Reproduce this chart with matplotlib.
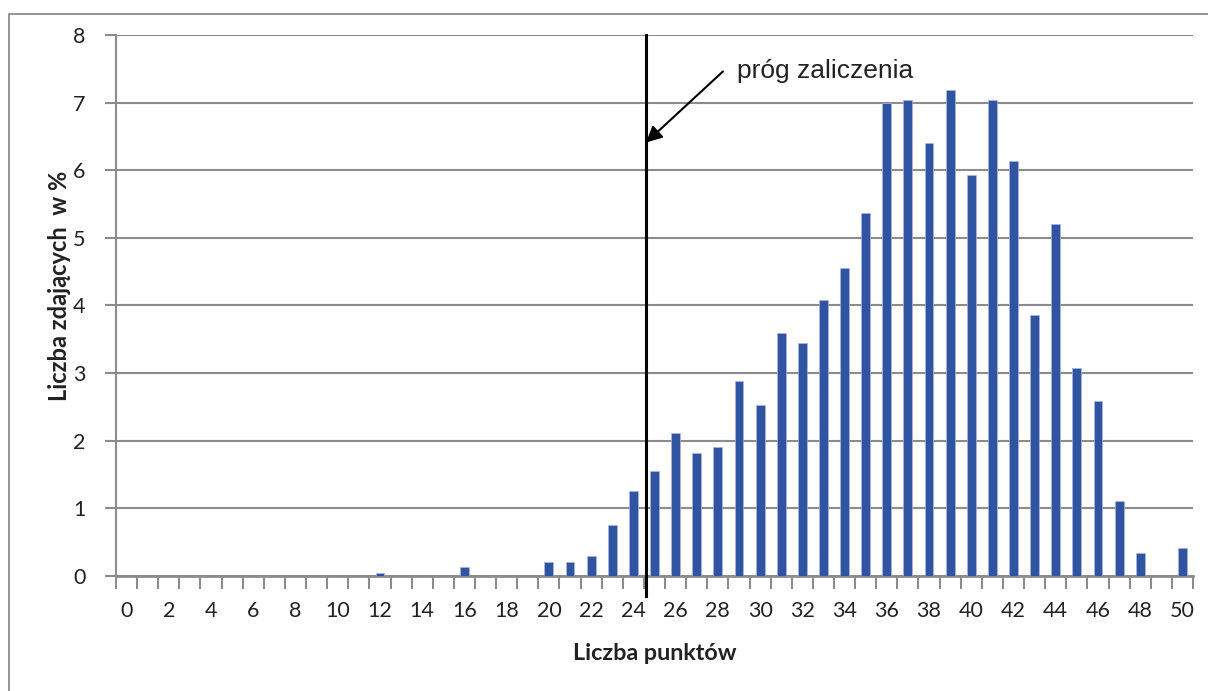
import matplotlib.pyplot as plt
import numpy as np
from matplotlib.patches import Rectangle

# dane: liczba punktow i procent zdajacych
punkty = np.arange(0, 51)
procent = [0, 0, 0, 0, 0, 0, 0, 0, 0, 0,
           0, 0, 0.05, 0, 0, 0, 0.14, 0, 0, 0,
           0.2, 0.2, 0.29, 0.76, 1.26, 1.55, 2.11, 1.82, 1.91, 2.88,
           2.53, 3.59, 3.44, 4.08, 4.56, 5.37, 6.99, 7.04, 6.40, 7.19,
           5.93, 7.04, 6.13, 3.86, 5.21, 3.08, 2.59, 1.11, 0.34, 0,
           0.41]
prog = 24.6
etykiety_x = [str(i) for i in range(0, 51, 2)]

plt.rcParams['font.family'] = ['Lato', 'DejaVu Sans']
fig = plt.figure(figsize=(12.08, 6.91), dpi=100)
ax = fig.add_axes([0.096, 0.1664, 0.8916, 0.783])

# ramka wokol wykresu
fig.patches.append(Rectangle((9/1208, -0.05), 1.2, 1 - 14/691 + 0.05,
                             transform=fig.transFigure, fill=False,
                             edgecolor='#8c8c8c', linewidth=1.3))

ax.bar(punkty, procent, width=0.42, color='#3154a2', edgecolor='#a9b7dc',
       linewidth=0.5, zorder=3)

ax.set_xlim(-0.5, 50.5)
ax.set_ylim(0, 8)
ax.set_yticks(range(0, 9))
ax.set_xticks(range(0, 51, 2))
ax.set_xticklabels(etykiety_x)
ax.set_xticks(np.arange(-0.5, 51, 1), minor=True)
ax.tick_params(axis='x', which='major', length=0, pad=18, labelsize=15.5, colors='#222222')
ax.tick_params(axis='x', which='minor', length=9, width=1.5, color='#8c8c8c', direction='out')
ax.tick_params(axis='y', length=8, width=1.5, color='#8c8c8c', labelsize=15.5,
               labelcolor='#222222', pad=14)
ax.grid(axis='y', color='#8c8c8c', linewidth=1.5, zorder=0)
for s in ['top', 'right']:
    ax.spines[s].set_visible(False)
ax.spines['left'].set_color('#8c8c8c')
ax.spines['left'].set_linewidth(1.5)
ax.spines['bottom'].set_color('#8c8c8c')
ax.spines['bottom'].set_linewidth(2)

ax.set_xlabel('Liczba punktów', fontsize=16.8, fontweight='bold', color='#222222', labelpad=16)
ax.set_ylabel('Liczba zdających  w %', fontsize=17, fontweight='bold', color='#222222')
ax.yaxis.set_label_coords(-0.042, 0.536)

# prog zaliczenia
ax.plot([prog, prog], [-0.29, 8], color='black', linewidth=2.2, clip_on=False, zorder=5)
ax.annotate('', xy=(prog, 6.41), xytext=(28.24, 7.46),
            arrowprops=dict(arrowstyle='-|>', color='black', lw=1.5, mutation_scale=24,
                            shrinkA=0, shrinkB=0))
ax.text(28.9, 7.46, 'próg zaliczenia', fontsize=19, family='Liberation Sans',
        color='#222222', va='center', ha='left')

fig.savefig('out.png', dpi=100)
